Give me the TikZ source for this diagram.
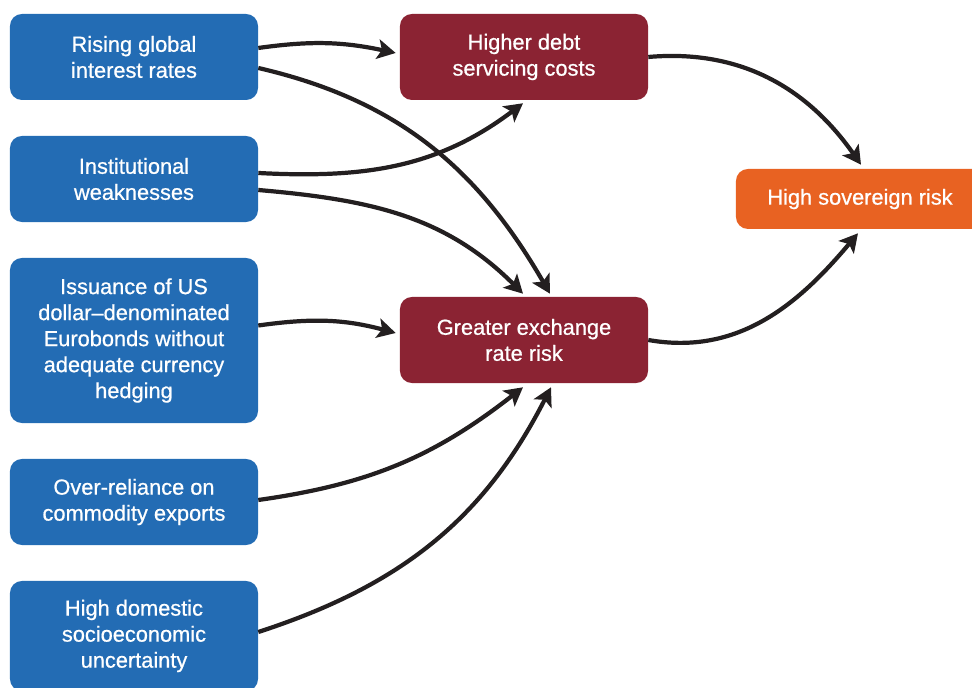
\documentclass[tikz,border=0pt]{standalone}
\usepackage{fontspec}
\setmainfont{Liberation Sans}
\newfontfamily\boxfont[Ligatures=TeX, FakeBold=0.7]{Liberation Sans}
\usetikzlibrary{arrows.meta,calc}

\definecolor{causeblue}{RGB}{35,108,180}
\definecolor{effectred}{RGB}{139,35,51}
\definecolor{riskorange}{RGB}{232,98,34}
\definecolor{linkblack}{RGB}{35,31,32}

\begin{document}
\begin{tikzpicture}[x=0.025cm, y=0.025cm,
  box/.style={rounded corners=0.3cm, text=white, align=center, inner sep=0pt,
    minimum width=6.2cm, minimum height=2.15cm,
    font=\boxfont\fontsize{15.5}{18.5}\selectfont},
  cause/.style={box, fill=causeblue},
  effect/.style={box, fill=effectred},
  link/.style={linkblack, line width=3pt,
    -{Stealth[length=13pt, width=14pt, inset=3pt]}}]
\useasboundingbox (0,0) rectangle (972,688);

% Causes
\node[cause] (rising) at (134,631) {Rising global\\interest rates};
\node[cause] (inst) at (134,509) {Institutional\\weaknesses};
\node[cause, minimum height=4.125cm] (bonds) at (134,347.5)
  {Issuance of US\\dollar--denominated\\Eurobonds without\\adequate currency\\hedging};
\node[cause] (commod) at (134,186) {Over-reliance on\\commodity exports};
\node[cause, minimum height=2.75cm] (socio) at (134,52)
  {High domestic\\socioeconomic\\uncertainty};

% Channels
\node[effect] (debt) at (524,631) {Higher debt\\servicing costs};
\node[effect] (fx) at (524,348) {Greater exchange\\rate risk};

% Outcome
\node[box, fill=riskorange, minimum height=1.5cm] (sov) at (860,489) {High sovereign risk};

% Causes -> channels
\draw[link] ($(rising.east)+(0,9)$) to[out=8, in=168] ($(debt.west)+(-4,4)$);
\draw[link] ($(rising.east)+(0,-11)$) to[out=-13, in=120] ($(fx.north)+(26,3)$);
\draw[link] ($(inst.east)+(0,6)$) to[out=-3, in=217] ($(debt.south)+(-1,-3)$);
\draw[link] ($(inst.east)+(0,-11)$) to[out=-5, in=135] ($(fx.north)+(-1,3)$);
\draw[link] ($(bonds.east)+(0,15)$) to[out=8, in=165] ($(fx.west)+(-4,7)$);
\draw[link] ($(commod.east)+(0,2)$) to[out=8, in=218] ($(fx.south)+(-1,-4)$);
\draw[link] ($(socio.east)+(0,4)$) to[out=18, in=243] ($(fx.south)+(27,-4)$);

% Channels -> outcome
\draw[link] (debt.east) to[out=5, in=125] ($(sov.north)+(1,4)$);
\draw[link] (fx.east) to[out=-10, in=230] ($(sov.south)+(-2,-4)$);
\end{tikzpicture}
\end{document}
